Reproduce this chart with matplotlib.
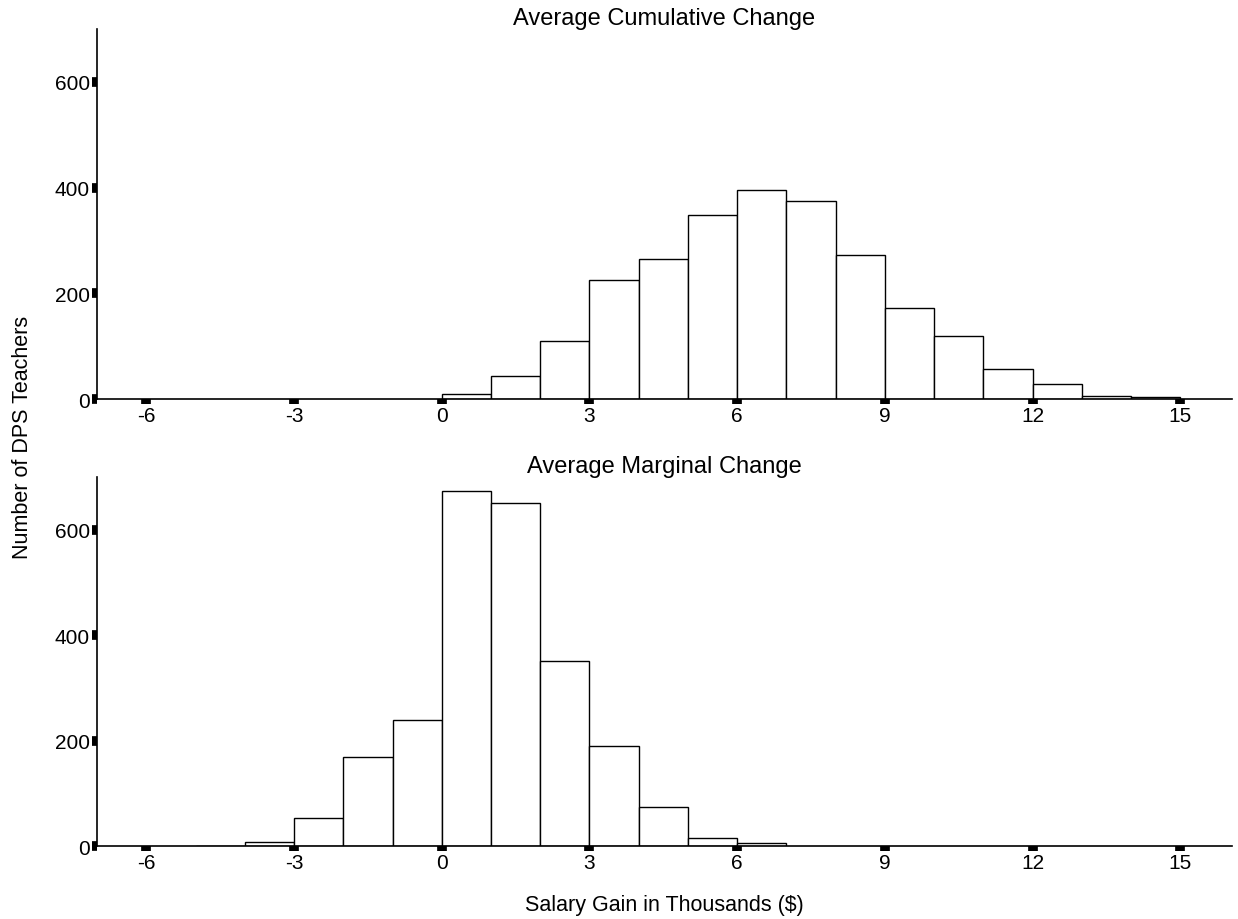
import matplotlib
matplotlib.use("Agg")
import matplotlib.pyplot as plt

plt.rcParams["font.family"] = ["Liberation Sans", "DejaVu Sans"]

# bin left edges (thousands of $) and teacher counts, bins are 1 wide
cumulative_bins = [0, 1, 2, 3, 4, 5, 6, 7, 8, 9, 10, 11, 12, 13, 14]
cumulative_counts = [9, 43, 110, 225, 265, 348, 396, 375, 273, 172, 119, 57, 29, 6, 3]

marginal_bins = [-5, -4, -3, -2, -1, 0, 1, 2, 3, 4, 5, 6]
marginal_counts = [1, 8, 54, 169, 239, 673, 650, 351, 190, 74, 15, 5]

x_ticks = [-6, -3, 0, 3, 6, 9, 12, 15]
y_ticks = [0, 200, 400, 600]

panels = [
    ("Average Cumulative Change", cumulative_bins, cumulative_counts),
    ("Average Marginal Change", marginal_bins, marginal_counts),
]


def style_axis(ax, title):
    ax.set_xlim(-7.0, 16.05)
    ax.set_ylim(0, 700)
    ax.set_xticks(x_ticks)
    ax.set_xticklabels([str(t) for t in x_ticks])
    ax.set_yticks(y_ticks)
    ax.set_title(title, fontsize=17, pad=3)
    for side in ("top", "right"):
        ax.spines[side].set_visible(False)
    for side in ("left", "bottom"):
        ax.spines[side].set_linewidth(1.2)
    ax.tick_params(axis="both", direction="out", length=3.5, width=7,
                   labelsize=15, pad=1.5)


fig = plt.figure(figsize=(12.38, 9.2), dpi=100)
ax_top = fig.add_axes([0.0784, 0.5652, 0.9168, 0.4022])
ax_bot = fig.add_axes([0.0784, 0.0793, 0.9168, 0.4011])

for ax, (title, bins, counts) in zip([ax_top, ax_bot], panels):
    ax.bar(bins, counts, width=1.0, align="edge", color="white",
           edgecolor="black", linewidth=1.0, zorder=2)
    style_axis(ax, title)

fig.text(0.018, 0.524, "Number of DPS Teachers", rotation=90,
         ha="center", va="center", fontsize=15.5)
fig.text(0.537, 0.016, "Salary Gain in Thousands ($)",
         ha="center", va="center", fontsize=15.5)

fig.savefig("out.png", dpi=100)
